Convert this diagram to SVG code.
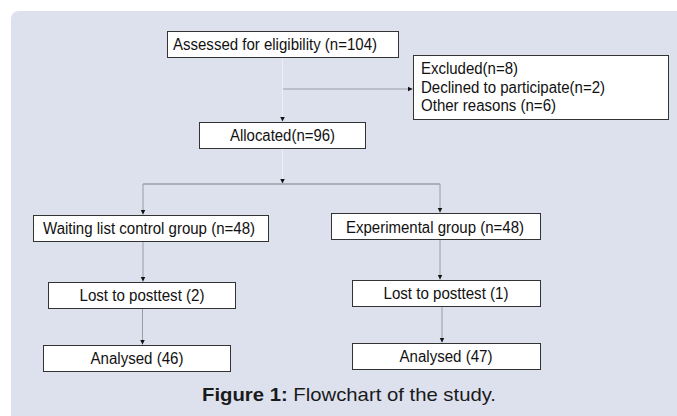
<svg xmlns="http://www.w3.org/2000/svg" width="677" height="416" viewBox="0 0 677 416">
<style>
.box{fill:#ffffff;stroke:#333333;stroke-width:1}
.t{font-family:"Liberation Sans",Arial,sans-serif;font-size:16px;fill:#111111}
.c{text-anchor:middle}
.ln{fill:none;stroke:#9a9ca6;stroke-width:1}
.lt{fill:none;stroke:#eceef4;stroke-width:1}
.cap{font-family:"Liberation Sans",Arial,sans-serif;font-size:19px;fill:#1a1a1a}
</style>
<defs>
<marker id="ah" markerWidth="6" markerHeight="6" refX="5" refY="3" orient="auto" markerUnits="userSpaceOnUse">
<path d="M0,0.5 L5,3 L0,5.5 Z" fill="#111"/>
</marker>
</defs>
<rect x="0" y="0" width="677" height="416" fill="#ffffff"/>
<rect x="11" y="11" width="680" height="420" rx="8" fill="#dde1ee"/>

<g id="connectors">
<path class="lt" d="M282.5,57 V121.5" marker-end="url(#ah)"/>
<path class="ln" d="M283,89 H412.5" marker-end="url(#ah)"/>
<path class="lt" d="M282.5,148 V183.5" marker-end="url(#ah)"/>
<path class="ln" d="M143,184 H440" style="stroke-width:1.5"/>
<path class="ln" d="M143,184 V214.5" marker-end="url(#ah)"/>
<path class="ln" d="M440,184 V212.5" marker-end="url(#ah)"/>
<path class="ln" d="M143,241 V281.5" marker-end="url(#ah)"/>
<path class="ln" d="M440,239 V279.5" marker-end="url(#ah)"/>
<path class="ln" d="M142.5,308 V344.5" marker-end="url(#ah)"/>
<path class="ln" d="M442,306 V342.5" marker-end="url(#ah)"/>
</g>

<g id="assessed">
<rect class="box" x="167.5" y="31.5" width="231" height="26"/>
<text class="t" x="173" y="50" textLength="204" lengthAdjust="spacingAndGlyphs">Assessed for eligibility (n=104)</text>
</g>
<g id="excluded">
<rect class="box" x="413.5" y="55.5" width="255" height="64"/>
<text class="t" x="421" y="74" textLength="97" lengthAdjust="spacingAndGlyphs">Excluded(n=8)</text>
<text class="t" x="421" y="92.5" textLength="184" lengthAdjust="spacingAndGlyphs">Declined to participate(n=2)</text>
<text class="t" x="421" y="111" textLength="135" lengthAdjust="spacingAndGlyphs">Other reasons (n=6)</text>
</g>
<g id="allocated">
<rect class="box" x="199.5" y="122.5" width="166" height="26"/>
<text class="t c" x="282.5" y="141" textLength="105" lengthAdjust="spacingAndGlyphs">Allocated(n=96)</text>
</g>
<g id="waiting">
<rect class="box" x="33.5" y="215.5" width="235" height="26"/>
<text class="t" x="43" y="233.5" textLength="212" lengthAdjust="spacingAndGlyphs">Waiting list control group (n=48)</text>
</g>
<g id="experimental">
<rect class="box" x="331.5" y="213.5" width="209" height="26"/>
<text class="t" x="346" y="232.5" textLength="178" lengthAdjust="spacingAndGlyphs">Experimental group (n=48)</text>
</g>
<g id="lost2">
<rect class="box" x="48.5" y="282.5" width="187" height="26"/>
<text class="t c" x="142" y="300.5" textLength="125" lengthAdjust="spacingAndGlyphs">Lost to posttest (2)</text>
</g>
<g id="lost1">
<rect class="box" x="352.5" y="280.5" width="188" height="26"/>
<text class="t c" x="446" y="299" textLength="125" lengthAdjust="spacingAndGlyphs">Lost to posttest (1)</text>
</g>
<g id="analysed46">
<rect class="box" x="43.5" y="345.5" width="187" height="26"/>
<text class="t c" x="137" y="364" textLength="93" lengthAdjust="spacingAndGlyphs">Analysed (46)</text>
</g>
<g id="analysed47">
<rect class="box" x="352.5" y="343.5" width="188" height="26"/>
<text class="t c" x="446" y="362" textLength="93" lengthAdjust="spacingAndGlyphs">Analysed (47)</text>
</g>

<text class="cap" x="202" y="401" textLength="294" lengthAdjust="spacingAndGlyphs"><tspan font-weight="bold">Figure 1:</tspan> Flowchart of the study.</text>
</svg>
